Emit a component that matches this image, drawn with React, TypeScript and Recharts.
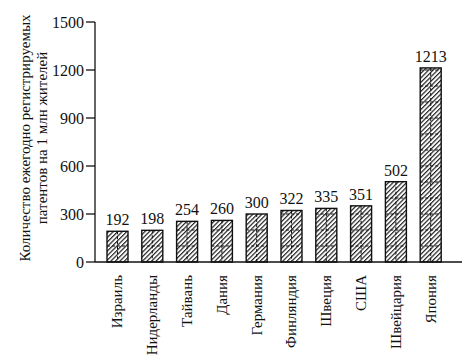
import { BarChart, Bar, XAxis, YAxis, LabelList } from 'recharts';

const countries = ['Израиль', 'Нидерланды', 'Тайвань', 'Дания', 'Германия', 'Финляндия', 'Швеция', 'США', 'Швейцария', 'Япония'];
const patents = [192, 198, 254, 260, 300, 322, 335, 351, 502, 1213];
const yTicks = [0, 300, 600, 900, 1200, 1500];

const data = countries.map((c, i) => ({ country: c, value: patents[i] }));

const FONT = 'Liberation Serif, DejaVu Serif, serif';

const HatchBar = (props: any) => {
  const { x, y, width, height } = props;
  if (!height || height <= 0) return null;
  const cx = x + width / 2;
  const rows: number[] = [];
  for (let yy = y + height - 16; yy > y + 2; yy -= 16) rows.push(yy);
  return (
    <g>
      <rect x={x} y={y} width={width} height={height} fill="url(#hatch)" />
      <line x1={cx} x2={cx} y1={y} y2={y + height} stroke="#111" strokeWidth={1} strokeDasharray="3 2" />
      {rows.map((r) => (
        <line key={r} x1={x} x2={x + width} y1={r} y2={r} stroke="#111" strokeWidth={1} strokeDasharray="3 2" />
      ))}
      <rect x={x} y={y} width={width} height={height} fill="none" stroke="#111" strokeWidth={1.4} />
    </g>
  );
};

const CountryTick = (props: any) => {
  const { x, y, payload } = props;
  return (
    <text
      x={x + 5}
      y={y + 5}
      transform={`rotate(-90, ${x + 5}, ${y + 5})`}
      textAnchor="end"
      fontFamily={FONT}
      fontSize={15}
      fill="#111"
    >
      {payload.value}
    </text>
  );
};

export default function App() {
  return (
    <div style={{ position: 'absolute', left: 0, top: 0, width: 469, height: 360, background: '#fff', fontFamily: FONT }}>
      <svg width={0} height={0} style={{ position: 'absolute' }}>
        <defs>
          <pattern id="hatch" patternUnits="userSpaceOnUse" width={3.2} height={3.2} patternTransform="rotate(45)">
            <rect width={3.2} height={3.2} fill="#fff" />
            <line x1={0} y1={0} x2={0} y2={3.2} stroke="#222" strokeWidth={2.4} />
          </pattern>
        </defs>
      </svg>
      <BarChart
        width={469}
        height={360}
        data={data}
        margin={{ top: 22, right: 7, left: 0, bottom: 0 }}
      >
        <XAxis
          dataKey="country"
          height={98}
          interval={0}
          tickLine={false}
          axisLine={{ stroke: '#111', strokeWidth: 1.3 }}
          padding={{ left: 5, right: 14 }}
          tick={<CountryTick />}
        />
        <YAxis
          width={95}
          domain={[0, 1500]}
          ticks={yTicks}
          interval={0}
          tickSize={9}
          tickMargin={2}
          axisLine={{ stroke: '#111', strokeWidth: 1.3 }}
          tickLine={{ stroke: '#111', strokeWidth: 1.3 }}
          tick={{ fill: '#111', fontSize: 16, fontFamily: FONT }}
          label={
            <g>
              <text
                x={30}
                y={138}
                transform="rotate(-90, 30, 138)"
                textAnchor="middle"
                fontFamily={FONT}
                fontSize={15}
                fill="#111"
              >
                Количество ежегодно регистрируемых
              </text>
              <text
                x={47}
                y={138}
                transform="rotate(-90, 47, 138)"
                textAnchor="middle"
                fontFamily={FONT}
                fontSize={15}
                fill="#111"
              >
                патентов на 1 млн жителей
              </text>
            </g>
          }
        />
        <Bar dataKey="value" barSize={21} shape={<HatchBar />} isAnimationActive={false}>
          <LabelList dataKey="value" position="top" offset={6} fill="#111" fontSize={16} fontFamily={FONT} />
        </Bar>
      </BarChart>
    </div>
  );
}
